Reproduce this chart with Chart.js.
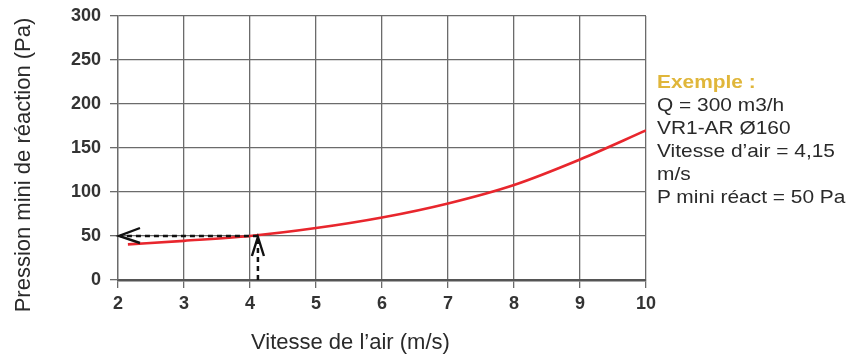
<!DOCTYPE html>
<html>
<head>
<meta charset="utf-8">
<script src="https://cdn.jsdelivr.net/npm/chart.js@4/dist/chart.umd.min.js"></script>
<style>
  html, body { margin: 0; padding: 0; background: #fff; }
  #wrap { position: relative; width: 854px; height: 354px; font-family: "Liberation Sans", Arial, sans-serif; color: #2a2a2a; }
  #yTitle { position: absolute; left: -137px; top: 153px; width: 320px; height: 24px; line-height: 24px;
    text-align: center; font-size: 22px; transform: rotate(-90deg); white-space: nowrap; }
  #xTitle { position: absolute; left: 251px; top: 331px; font-size: 22px; line-height: 22px; white-space: nowrap; }
  #note { position: absolute; left: 657px; top: 70px; font-size: 19px; line-height: 23px;
    transform: scaleX(1.1); transform-origin: left top; white-space: nowrap; }
  #note b { color: #e0b63a; }
</style>
</head>
<body>
<div id="wrap">
  <canvas id="pressureChart" width="854" height="354"></canvas>
  <div id="yTitle">Pression mini de réaction (Pa)</div>
  <div id="xTitle">Vitesse de l’air (m/s)</div>
  <div id="note"><b>Exemple :</b><br>Q = 300 m3/h<br>VR1-AR Ø160<br>Vitesse d’air = 4,15<br>m/s<br>P mini réact = 50 Pa</div>
</div>
<script>
// curve
const airSpeeds = [2.15, 3, 4, 5, 6, 7, 8, 9, 10];
const minPressures = [40.5, 44.5, 50, 59, 71, 87, 108, 137, 170];
const xTicks = [2, 3, 4, 5, 6, 7, 8, 9, 10];
const yTicks = [0, 50, 100, 150, 200, 250, 300];

// worked example
const exampleSpeed = 4.12;
const examplePressure = 50;

const tickFont = { family: "'Liberation Sans', Arial, sans-serif", size: 18, weight: "bold" };

const exampleArrows = {
  id: "exampleArrows",
  afterDatasetsDraw(chart) {
    const { ctx, scales } = chart;
    const xv = scales.x.getPixelForValue(exampleSpeed);
    const yv = scales.y.getPixelForValue(examplePressure);
    const xMin = scales.x.getPixelForValue(xTicks[0]);
    const yMin = scales.y.getPixelForValue(yTicks[0]);

    ctx.save();
    ctx.strokeStyle = "#111";
    ctx.lineWidth = 2.5;
    ctx.setLineDash([5, 4]);
    ctx.beginPath();
    ctx.moveTo(xv, yv);
    ctx.lineTo(xMin + 2, yv);
    ctx.moveTo(xv, yMin);
    ctx.lineTo(xv, yv + 2);
    ctx.stroke();

    ctx.setLineDash([]);
    ctx.lineWidth = 2.4;
    ctx.beginPath();
    ctx.moveTo(xMin + 22, yv - 8);
    ctx.lineTo(xMin + 1, yv);
    ctx.lineTo(xMin + 22, yv + 7);
    ctx.moveTo(xv - 6, yv + 20);
    ctx.lineTo(xv, yv + 1);
    ctx.lineTo(xv + 6, yv + 20);
    ctx.stroke();
    ctx.restore();
  },
};

new Chart(document.getElementById("pressureChart"), {
  type: "line",
  data: {
    datasets: [
      {
        data: airSpeeds.map((s, i) => ({ x: s, y: minPressures[i] })),
        borderColor: "#e8262d",
        borderWidth: 2.6,
        pointRadius: 0,
        tension: 0.4,
        cubicInterpolationMode: "monotone",
        fill: false,
      },
    ],
  },
  options: {
    responsive: false,
    animation: false,
    layout: { padding: { top: 16, right: 208, left: 0, bottom: 0 } },
    plugins: { legend: { display: false }, tooltip: { enabled: false } },
    scales: {
      x: {
        type: "linear",
        min: 2,
        max: 10,
        afterFit: (scale) => {
          scale.height = 74;
          scale.paddingLeft = 0;
          scale.paddingRight = 0;
        },
        afterBuildTicks: (scale) => { scale.ticks = xTicks.map((v) => ({ value: v })); },
        ticks: { font: tickFont, color: "#333", padding: 5, maxRotation: 0 },
        grid: { color: "#6b6b6b", lineWidth: 1.3, tickLength: 8 },
        border: { color: "#555", width: 2.5 },
      },
      y: {
        type: "linear",
        min: 0,
        max: 300,
        afterFit: (scale) => {
          scale.width = 118;
          scale.paddingTop = 0;
          scale.paddingBottom = 0;
        },
        afterBuildTicks: (scale) => { scale.ticks = yTicks.map((v) => ({ value: v })); },
        ticks: { font: tickFont, color: "#333", padding: 9 },
        grid: { color: "#6b6b6b", lineWidth: 1.3, tickLength: 8 },
        border: { color: "#6b6b6b", width: 1.3 },
      },
    },
  },
  plugins: [exampleArrows],
});
</script>
</body>
</html>
